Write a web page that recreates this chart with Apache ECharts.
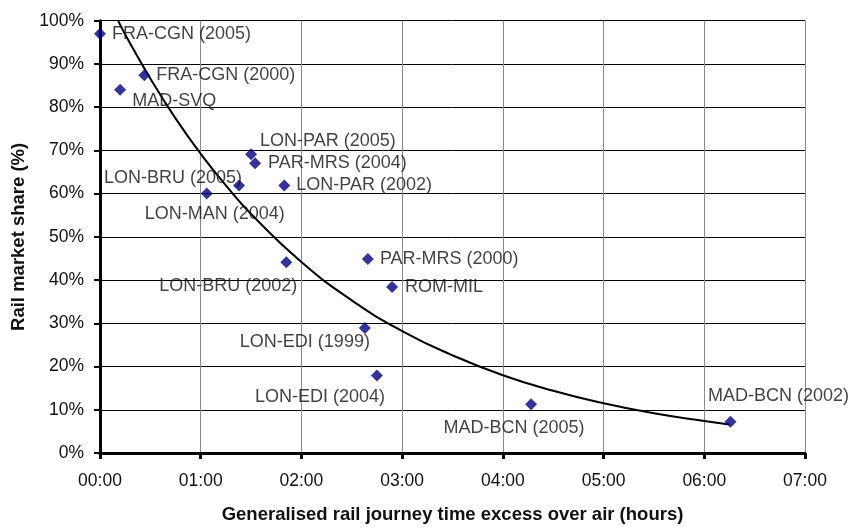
<!DOCTYPE html>
<html>
<head>
<meta charset="utf-8">
<script src="https://cdn.jsdelivr.net/npm/echarts@6/dist/echarts.min.js"></script>
<style>
html,body{margin:0;padding:0;background:#fff;}
#chart{width:854px;height:529px;}
</style>
</head>
<body>
<div id="chart"></div>
<script>
// Data
var routes = ['FRA-CGN (2005)','FRA-CGN (2000)','MAD-SVQ','LON-PAR (2005)','PAR-MRS (2004)','LON-BRU (2005)','LON-MAN (2004)','LON-PAR (2002)','LON-BRU (2002)','PAR-MRS (2000)','ROM-MIL','LON-EDI (1999)','LON-EDI (2004)','MAD-BCN (2005)','MAD-BCN (2002)'];
var timeExcessHours = [0.00, 0.44, 0.20, 1.50, 1.54, 1.38, 1.06, 1.83, 1.85, 2.66, 2.90, 2.63, 2.75, 4.28, 6.26];
var railSharePct = [97.0, 87.4, 84.0, 69.1, 67.0, 61.9, 60.0, 61.9, 44.1, 44.9, 38.4, 28.9, 17.9, 11.3, 7.2];

// Trend curve
var trendHours = [0.18, 0.25, 0.5, 0.75, 1.0, 1.25, 1.5, 2.0, 2.5, 3.0, 3.5, 4.0, 4.5, 5.0, 5.5, 6.0, 6.25];
var trendPct = [100, 96.8, 86.6, 77.4, 69.2, 61.9, 55.3, 44.2, 35.3, 28.2, 22.6, 18.0, 14.4, 11.5, 9.2, 7.4, 6.6];

var xTickLabels = ['00:00','01:00','02:00','03:00','04:00','05:00','06:00','07:00'];
var yTickLabels = ['0%','10%','20%','30%','40%','50%','60%','70%','80%','90%','100%'];

// Label placement (style only): [align, dx, dy]
var labelPlace = [
  ['left', 12, 0], ['left', 12, 0], ['left', 12, 11], ['left', 9, -13], ['left', 13, 0],
  ['center', -66, -7], ['center', 8, 20], ['left', 12, 0], ['center', -58, 24], ['left', 12, 0],
  ['left', 13, 0], ['center', -60, 14], ['center', -57, 21], ['center', -17, 24], ['center', 48, -26]
];

var FONT = '"Liberation Sans", Arial, sans-serif';

var scatterData = routes.map(function (name, i) {
  var p = labelPlace[i];
  return {
    name: name,
    value: [timeExcessHours[i], railSharePct[i]],
    label: { show: true, position: 'inside', align: p[0], verticalAlign: 'middle', offset: [p[1], p[2]], formatter: name }
  };
});
var trendData = trendHours.map(function (h, i) { return [h, trendPct[i]]; });

var chart = echarts.init(document.getElementById('chart'), null, { renderer: 'canvas' });
chart.setOption({
  animation: false,
  backgroundColor: '#ffffff',
  grid: { left: 100, right: 49, top: 20.7, bottom: 70, containLabel: false },
  xAxis: {
    type: 'value', min: 0, max: 7, interval: 1,
    name: 'Generalised rail journey time excess over air (hours)',
    nameLocation: 'middle', nameGap: 52,
    nameTextStyle: { fontFamily: FONT, fontSize: 18.5, fontWeight: 'bold', color: '#111' },
    axisLine: { show: true, onZero: false, lineStyle: { color: '#000', width: 3 } },
    axisTick: { show: true, inside: false, length: 6, lineStyle: { color: '#000', width: 3 } },
    axisLabel: { margin: 19, fontFamily: FONT, fontSize: 17.5, color: '#111',
      formatter: function (v) { return xTickLabels[Math.round(v)]; } },
    splitLine: { show: true, lineStyle: { color: '#8c8c8c', width: 1 } }
  },
  yAxis: {
    type: 'value', min: 0, max: 100, interval: 10,
    name: 'Rail market share (%)',
    nameLocation: 'middle', nameGap: 72, nameRotate: 90,
    nameTextStyle: { fontFamily: FONT, fontSize: 18.5, fontWeight: 'bold', color: '#111' },
    axisLine: { show: true, onZero: false, lineStyle: { color: '#000', width: 3 } },
    axisTick: { show: true, inside: false, length: 6, lineStyle: { color: '#000', width: 2 } },
    axisLabel: { margin: 16, fontFamily: FONT, fontSize: 17.5, color: '#111',
      formatter: function (v) { return yTickLabels[Math.round(v / 10)]; } },
    splitLine: { show: true, lineStyle: { color: '#000', width: 1 } }
  },
  series: [
    {
      type: 'line', data: trendData, smooth: true, showSymbol: false, symbol: 'none',
      lineStyle: { color: '#000', width: 2 }, z: 3, silent: true
    },
    {
      type: 'scatter', data: scatterData, symbol: 'diamond', symbolSize: 12,
      itemStyle: { color: '#000080' }, z: 4,
      label: { fontFamily: FONT, fontSize: 18, color: '#111' }
    }
  ]
});
</script>
</body>
</html>
